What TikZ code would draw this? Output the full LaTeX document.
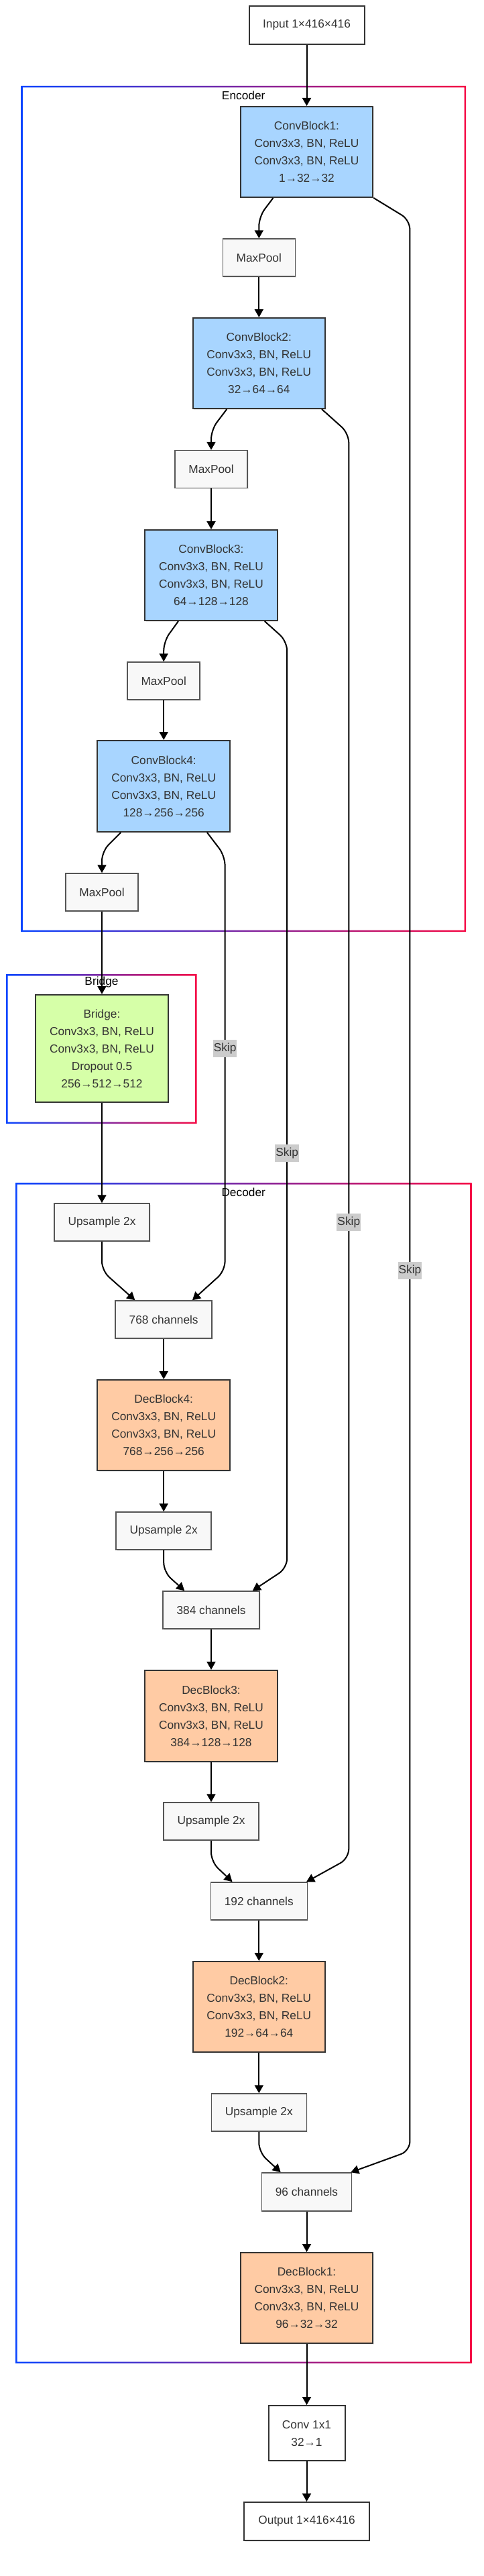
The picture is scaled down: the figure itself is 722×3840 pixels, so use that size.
\documentclass[tikz,border=0pt]{standalone}
\usepackage{fontspec}
\setmainfont{Liberation Sans}
\usetikzlibrary{arrows.meta, shadows}

\definecolor{encfill}{HTML}{A8D5FF}
\definecolor{decfill}{HTML}{FFCBA4}
\definecolor{bridgefill}{HTML}{D6FFA8}
\definecolor{stepfill}{HTML}{F8F8F8}
\definecolor{skipfill}{HTML}{CCCCCC}
\definecolor{boxline}{HTML}{333333}
\definecolor{stepline}{HTML}{555555}
\definecolor{nodetext}{HTML}{333333}
\definecolor{frameblue}{HTML}{0A45FF}
\definecolor{framered}{HTML}{F50A45}

\newcommand{\blockwidth}{197.5pt}
\newcommand{\blockheight}{135pt}
\newcommand{\nodefont}{\fontsize{17.3}{26}\selectfont}

% gradient frame: x1, y1, x2, y2
\newcommand{\groupframe}[4]{%
  \shade[left color=frameblue, right color=framered, even odd rule]
    (#1,#2) rectangle (#3,#4) (#1+2.5,#2+2.5) rectangle (#3-2.5,#4-2.5);
}

\begin{document}
\begin{tikzpicture}[x=1pt, y=-1pt,
  box/.style={draw=boxline, line width=2pt, align=center, text=nodetext,
    font=\nodefont, inner sep=0pt,
    drop shadow={shadow xshift=1.5pt, shadow yshift=-1.5pt, opacity=0.15}},
  encblock/.style={box, fill=encfill, minimum width=\blockwidth, minimum height=\blockheight},
  decblock/.style={box, fill=decfill, minimum width=\blockwidth, minimum height=\blockheight},
  bridgeblock/.style={box, fill=bridgefill, minimum width=\blockwidth, minimum height=160pt},
  iobox/.style={box, fill=white, minimum height=57pt},
  stepbox/.style={box, fill=stepfill, draw=stepline, line width=1.5pt, minimum height=56pt},
  skiplabel/.style={fill=skipfill, text=nodetext, font=\nodefont, inner xsep=1pt,
    inner ysep=0pt, minimum height=26pt},
  framelabel/.style={text=black, font=\nodefont, inner sep=0pt},
  link/.style={draw=black, line width=2pt, rounded corners=14pt},
  flow/.style={link, -{Triangle[length=12pt, width=13pt]}}]

  \useasboundingbox (0,0) rectangle (722,3840);

  % === GROUP FRAMES ===
  \groupframe{31.3}{128}{695.2}{1389}
  \groupframe{9.2}{1452}{293.7}{1675}
  \groupframe{23}{1763}{703.5}{3523}
  \node[framelabel] (enclabel) at (363.2, 142) {Encoder};
  \node[framelabel] (bridgelabel) at (151.5, 1464) {Bridge};
  \node[framelabel] (declabel) at (363.2, 1777) {Decoder};

  % === ENCODER ===
  \node[iobox, minimum width=172pt] (input) at (457.5, 37.5) {Input 1×416×416};
  \node[encblock] (cb1) at (457.5, 226.5)
    {ConvBlock1:\\Conv3x3, BN, ReLU\\Conv3x3, BN, ReLU\\1→32→32};
  \node[stepbox, minimum width=108pt] (mp1) at (386.3, 384) {MaxPool};
  \node[encblock] (cb2) at (386.3, 541.5)
    {ConvBlock2:\\Conv3x3, BN, ReLU\\Conv3x3, BN, ReLU\\32→64→64};
  \node[stepbox, minimum width=108pt] (mp2) at (315, 699.5) {MaxPool};
  \node[encblock] (cb3) at (315, 857.5)
    {ConvBlock3:\\Conv3x3, BN, ReLU\\Conv3x3, BN, ReLU\\64→128→128};
  \node[stepbox, minimum width=108pt] (mp3) at (244.2, 1015) {MaxPool};
  \node[encblock, minimum height=136pt] (cb4) at (244.2, 1172)
    {ConvBlock4:\\Conv3x3, BN, ReLU\\Conv3x3, BN, ReLU\\128→256→256};
  \node[stepbox, minimum width=108pt] (mp4) at (152, 1330) {MaxPool};

  % === BRIDGE ===
  \node[bridgeblock] (bridge) at (152, 1563)
    {Bridge:\\Conv3x3, BN, ReLU\\Conv3x3, BN, ReLU\\Dropout 0.5\\256→512→512};

  % === DECODER ===
  \node[stepbox, minimum width=142pt] (up4) at (152, 1822) {Upsample 2x};
  \node[stepbox, minimum width=144pt] (cat4) at (244.2, 1967) {768 channels};
  \node[decblock] (dec4) at (244.2, 2124.5)
    {DecBlock4:\\Conv3x3, BN, ReLU\\Conv3x3, BN, ReLU\\768→256→256};
  \node[stepbox, minimum width=142pt] (up3) at (244.2, 2282) {Upsample 2x};
  \node[stepbox, minimum width=144pt] (cat3) at (315, 2400) {384 channels};
  \node[decblock, minimum height=136pt] (dec3) at (315, 2558)
    {DecBlock3:\\Conv3x3, BN, ReLU\\Conv3x3, BN, ReLU\\384→128→128};
  \node[stepbox, minimum width=142pt] (up2) at (315, 2715) {Upsample 2x};
  \node[stepbox, minimum width=144pt] (cat2) at (386.3, 2834) {192 channels};
  \node[decblock] (dec2) at (386.3, 2991.5)
    {DecBlock2:\\Conv3x3, BN, ReLU\\Conv3x3, BN, ReLU\\192→64→64};
  \node[stepbox, minimum width=142pt] (up1) at (386.3, 3149) {Upsample 2x};
  \node[stepbox, minimum width=134pt, minimum height=57pt] (cat1) at (457.5, 3267.5) {96 channels};
  \node[decblock] (dec1) at (457.5, 3425.5)
    {DecBlock1:\\Conv3x3, BN, ReLU\\Conv3x3, BN, ReLU\\96→32→32};

  % === HEAD ===
  \node[iobox, minimum width=114pt, minimum height=82pt] (conv) at (457.5, 3627) {Conv 1x1\\32→1};
  \node[iobox, minimum width=186.5pt] (output) at (457.5, 3758.5) {Output 1×416×416};

  % skip labels
  \node[skiplabel] (s4) at (335.6, 1563) {Skip};
  \node[skiplabel] (s3) at (428.2, 1719) {Skip};
  \node[skiplabel] (s2) at (520.3, 1822) {Skip};
  \node[skiplabel] (s1) at (611.4, 1894) {Skip};

  % === CONNECTORS ===
  % down the encoder
  \draw[flow] (input) -- (cb1);
  \draw[flow] ([xshift=-50pt]cb1.south) -- ([yshift=32pt]mp1.north) -- (mp1.north);
  \draw[flow] (mp1) -- (cb2);
  \draw[flow] ([xshift=-48pt]cb2.south) -- ([yshift=30pt]mp2.north) -- (mp2.north);
  \draw[flow] (mp2) -- (cb3);
  \draw[flow] ([xshift=-49pt]cb3.south) -- ([yshift=30pt]mp3.north) -- (mp3.north);
  \draw[flow] (mp3) -- (cb4);
  \draw[flow] ([xshift=-64pt]cb4.south) -- ([yshift=32pt]mp4.north) -- (mp4.north);
  \draw[flow] (mp4) -- (bridge);
  \draw[flow] (bridge) -- (up4);

  % up the decoder
  \draw[flow] (up4.south) -- ([yshift=44pt]cat4.north west -| up4) -- ([xshift=30pt]cat4.north west);
  \draw[flow] (cat4) -- (dec4);
  \draw[flow] (dec4) -- (up3);
  \draw[flow] (up3.south) -- ([yshift=28pt]cat3.north west -| up3) -- ([xshift=33pt]cat3.north west);
  \draw[flow] (cat3) -- (dec3);
  \draw[flow] (dec3) -- (up2);
  \draw[flow] (up2.south) -- ([yshift=30pt]cat2.north west -| up2) -- ([xshift=33pt]cat2.north west);
  \draw[flow] (cat2) -- (dec2);
  \draw[flow] (dec2) -- (up1);
  \draw[flow] (up1.south) -- ([yshift=30pt]cat1.north west -| up1) -- ([xshift=29pt]cat1.north west);
  \draw[flow] (cat1) -- (dec1);
  \draw[flow] (dec1) -- (conv);
  \draw[flow] (conv) -- (output);

  % skip connections
  \draw[link] (cb1.south east) -- ([yshift=-33pt]cb1.south east -| s1) -- (s1.north);
  \draw[flow] (s1.south) -- ([yshift=32pt]cat1.north east -| s1) -- ([xshift=-2pt]cat1.north east);
  \draw[link] ([xshift=-6pt]cb2.south east) -- ([yshift=-36pt]cb2.south east -| s2) -- (s2.north);
  \draw[flow] (s2.south) -- ([yshift=35pt]cat2.north east -| s2) -- ([xshift=-2pt]cat2.north east);
  \draw[link] ([xshift=-20pt]cb3.south east) -- ([yshift=-30pt]cb3.south east -| s3) -- (s3.north);
  \draw[flow] (s3.south) -- ([yshift=34pt]cat3.north east -| s3) -- ([xshift=-11pt]cat3.north east);
  \draw[link] ([xshift=-35pt]cb4.south east) -- ([yshift=-35pt]cb4.south east -| s4) -- (s4.north);
  \draw[flow] (s4.south) -- ([yshift=44pt]cat4.north east -| s4) -- ([xshift=-30pt]cat4.north east);
\end{tikzpicture}
\end{document}
